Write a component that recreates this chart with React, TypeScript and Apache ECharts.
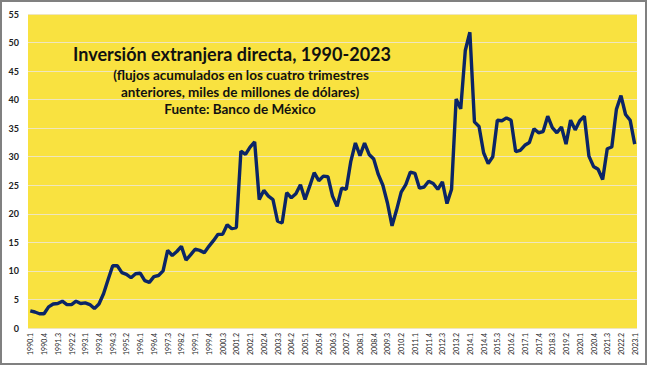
import React, { useEffect, useRef } from "react";
import * as echarts from "echarts";

const firstYear = 1990;
const lastYear = 2023;
const categories: string[] = [];
for (let y = firstYear; y <= lastYear; y++) {
  for (let q = 1; q <= 4; q++) {
    if (y === lastYear && q > 1) break;
    categories.push(`${y}.${q}`);
  }
}

const ied: number[] = [
  3.0, 2.8, 2.5, 2.5, 3.7, 4.2, 4.3, 4.7, 4.1, 4.1,
  4.7, 4.3, 4.4, 4.1, 3.4, 4.2, 6.0, 8.5, 10.9, 10.9,
  9.7, 9.4, 8.8, 9.5, 9.6, 8.3, 8.0, 9.0, 9.2, 10.0,
  13.6, 12.7, 13.4, 14.3, 11.9, 12.8, 13.8, 13.6, 13.2, 14.3,
  15.3, 16.4, 16.4, 18.1, 17.4, 17.6, 31.0, 30.4, 31.7, 32.6,
  22.5, 24.1, 23.1, 22.5, 18.7, 18.4, 23.7, 22.8, 23.5, 25.1,
  22.5, 24.8, 27.2, 25.8, 26.6, 26.5, 23.1, 21.3, 24.5, 24.3,
  29.2, 32.4, 30.2, 32.4, 30.4, 29.6, 26.9, 25.0, 21.9, 17.9,
  20.7, 23.8, 25.1, 27.3, 27.1, 24.5, 24.7, 25.7, 25.3, 24.3,
  25.6, 21.8, 24.3, 40.1, 38.4, 48.6, 51.8, 36.1, 35.3, 30.7,
  28.8, 30.0, 36.4, 36.3, 36.8, 36.4, 30.9, 31.1, 32.0, 32.5,
  34.9, 34.2, 34.4, 37.1, 35.1, 34.2, 35.2, 32.2, 36.4, 34.7,
  36.3, 37.1, 30.1, 28.3, 27.8, 26.0, 31.4, 31.7, 38.3, 40.7,
  37.4, 36.4, 32.2,
];

const titleLines = [
  "Inversión extranjera directa, 1990-2023",
  "(flujos acumulados en los cuatro trimestres",
  "anteriores, miles de millones de dólares)",
  "Fuente: Banco de México",
];

const FONT = "Lato, 'Noto Sans', sans-serif";

export default function App() {
  const ref = useRef<HTMLDivElement>(null);
  useEffect(() => {
    if (!ref.current) return;
    const chart = echarts.init(ref.current, undefined, { renderer: "svg" });
    chart.setOption({
      animation: false,
      backgroundColor: "#ffffff",
      textStyle: { fontFamily: FONT },
      grid: {
        left: 28,
        right: 11,
        top: 14,
        bottom: 40,
        show: true,
        backgroundColor: "#F9E240",
        borderWidth: 0,
      },
      xAxis: {
        type: "category",
        data: categories,
        boundaryGap: true,
        axisLine: { show: false },
        axisTick: { show: false },
        axisLabel: {
          interval: 2,
          rotate: 90,
          fontSize: 7,
          color: "#222",
          margin: 5,
          fontFamily: FONT,
        },
      },
      yAxis: {
        type: "value",
        min: 0,
        max: 55,
        interval: 5,
        axisLine: { show: false },
        axisTick: { show: false },
        axisLabel: { fontSize: 9, color: "#222", margin: 9, fontFamily: FONT, fontWeight: "bold" },
        splitLine: { show: true, lineStyle: { color: "#EFE6BE", width: 1 } },
      },
      series: [
        {
          type: "line",
          data: ied,
          symbol: "none",
          lineStyle: { color: "#0B2566", width: 3.4 },
          z: 5,
        },
      ],
      graphic: [
        {
          type: "rect",
          shape: { x: 1, y: 1, width: 645, height: 363 },
          style: { fill: "transparent", stroke: "#808080", lineWidth: 2 },
          z: 100,
        },
        {
          type: "text",
          x: 232,
          y: 54,
          style: {
            text: titleLines[0],
            font: `bold 18px ${FONT}`,
            fill: "#111",
            textAlign: "center",
            textVerticalAlign: "middle",
          },
          z: 100,
        },
        {
          type: "text",
          x: 241,
          y: 75,
          style: {
            text: titleLines[1],
            font: `bold 13.5px ${FONT}`,
            fill: "#111",
            textAlign: "center",
            textVerticalAlign: "middle",
          },
          z: 100,
        },
        {
          type: "text",
          x: 240,
          y: 92,
          style: {
            text: titleLines[2],
            font: `bold 13.5px ${FONT}`,
            fill: "#111",
            textAlign: "center",
            textVerticalAlign: "middle",
          },
          z: 100,
        },
        {
          type: "text",
          x: 240,
          y: 109,
          style: {
            text: titleLines[3],
            font: `bold 13.5px ${FONT}`,
            fill: "#111",
            textAlign: "center",
            textVerticalAlign: "middle",
          },
          z: 100,
        },
      ],
    });
    return () => chart.dispose();
  }, []);
  return (
    <div
      ref={ref}
      style={{ position: "fixed", left: 0, top: 0, width: 648, height: 368 }}
    />
  );
}
